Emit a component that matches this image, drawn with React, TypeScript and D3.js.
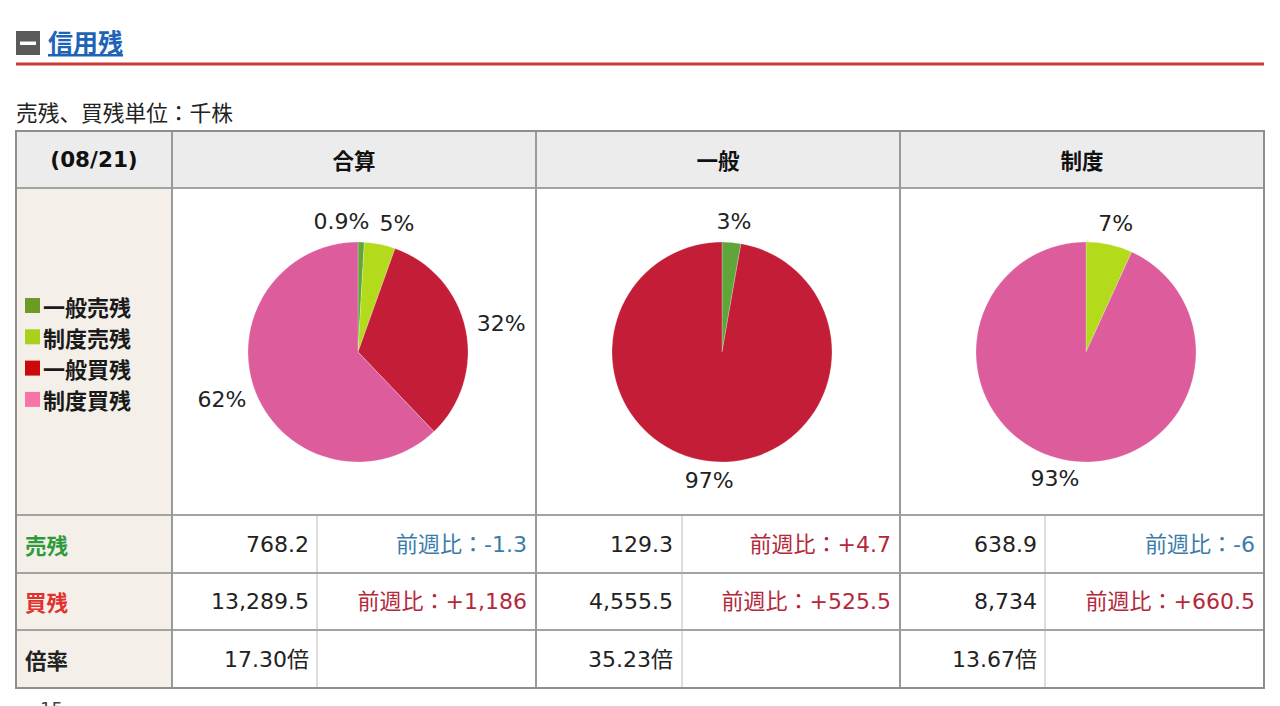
import React from 'react';
import * as d3 from 'd3';

// ---- data ----
const dateLabel = '(08/21)';
const columnTitles = ['合算', '一般', '制度'];
const legendLabels = ['一般売残', '制度売残', '一般買残', '制度買残'];
const legendColors = ['#6b9b24', '#a8d11c', '#cc0a0a', '#f774a6'];
const sliceColors = ['#5fa53a', '#b3da1b', '#c41d37', '#dd5c9c'];
// components: 一般売残, 制度売残, 一般買残, 制度買残 (千株)
const componentValues = [129.3, 638.9, 4555.5, 8734];
const pieComponents = [[0, 1, 2, 3], [0, 2], [1, 3]];
const rowLabels = ['売残', '買残', '倍率'];
const rowLabelColors = ['#2e9a3c', '#e2302c', '#222222'];
const sellValues = [768.2, 129.3, 638.9];
const buyValues = [13289.5, 4555.5, 8734];
const ratioValues = [17.3, 35.23, 13.67];
const sellChanges = [-1.3, 4.7, -6];
const buyChanges = [1186, 525.5, 660.5];

// ---- layout ----
const W = 1280;
const H = 706;
const tableL = 16;
const tableR = 1264;
const labelColR = 172;
const colW = 364;
const subW = 145;
const headerTop = 131;
const headerBot = 188;
const pieBot = 515;
const rowLines = [515, 573, 630, 688];
const pieR = 110;
const pieCY = 352;
const labelR = 122;
const labelFont = 22;

const latin = '"DejaVu Sans", "Noto Sans CJK JP", sans-serif';
const cjk = '"Noto Sans CJK JP", "DejaVu Sans", sans-serif';

let ctx: CanvasRenderingContext2D | null = null;
function measure(text: string, font: string) {
  if (!ctx) {
    const c = document.createElement('canvas');
    ctx = c.getContext('2d');
  }
  if (!ctx) return text.length * 12;
  ctx.font = font;
  return ctx.measureText(text).width;
}

const fmtNum = d3.format(',');
function fmtChange(v: number) {
  return '前週比：' + (v > 0 ? '+' : v < 0 ? '-' : '') + fmtNum(Math.abs(v));
}
function fmtPct(p: number) {
  return p < 1 ? p.toFixed(1) + '%' : Math.round(p) + '%';
}

function Pie({ cx, comps }: { cx: number; comps: number[] }) {
  const values = comps.map((i) => componentValues[i]);
  const total = d3.sum(values);
  const arcs = d3.pie<number>().sort(null).value((d) => d)(values);
  const arcGen = d3.arc<d3.PieArcDatum<number>>().innerRadius(0).outerRadius(pieR);
  const labels = arcs.map((a, k) => {
    const mid = (a.startAngle + a.endAngle) / 2;
    const text = fmtPct((values[k] / total) * 100);
    const w = measure(text, `${labelFont}px "DejaVu Sans"`);
    const h = 16;
    const ax = cx + labelR * Math.sin(mid);
    const ay = pieCY - labelR * Math.cos(mid);
    return { text, w, h, x: ax + (w / 2) * Math.sin(mid), y: ay - (h / 2) * Math.cos(mid) - 1 };
  });
  // simple collision resolution between neighbours
  for (let iter = 0; iter < 5; iter++) {
    for (let i = 0; i < labels.length - 1; i++) {
      const a = labels[i];
      const b = labels[i + 1];
      const need = (a.w + b.w) / 2 + 10;
      const dx = b.x - a.x;
      if (Math.abs(b.y - a.y) < 20 && Math.abs(dx) < need) {
        const push = (need - Math.abs(dx)) / 2;
        const s = dx >= 0 ? 1 : -1;
        a.x -= push * s * 1.3;
        b.x += push * s * 0.7;
      }
    }
  }
  return (
    <g>
      {arcs.map((a, k) => (
        <path
          key={k}
          d={arcGen(a) || ''}
          transform={`translate(${cx},${pieCY})`}
          fill={sliceColors[comps[k]]}
          stroke="#ffffff"
          strokeOpacity={0.4}
          strokeWidth={0.6}
        />
      ))}
      {labels.map((l, k) => (
        <text
          key={k}
          x={l.x}
          y={l.y}
          textAnchor="middle"
          dominantBaseline="central"
          fontFamily={latin}
          fontSize={labelFont}
          fill="#222"
        >
          {l.text}
        </text>
      ))}
    </g>
  );
}

export default function App() {
  const colL = (i: number) => labelColR + i * colW;
  const rowsData = [
    { vals: sellValues.map((v) => fmtNum(v)), changes: sellChanges },
    { vals: buyValues.map((v) => fmtNum(v)), changes: buyChanges },
    { vals: ratioValues.map((v) => v.toFixed(2) + '倍'), changes: null as number[] | null },
  ];
  return (
    <div style={{ position: 'absolute', left: 0, top: 0, width: W, height: H, background: '#fff' }}>
      <svg width={W} height={H} style={{ display: 'block' }}>
        <rect x={0} y={0} width={W} height={H} fill="#ffffff" />
        {/* title */}
        <rect x={16} y={31} width={24} height={24} fill="#5a5a5a" />
        <rect x={20} y={41.5} width={16} height={3.5} fill="#ffffff" />
        <text
          x={48}
          y={52}
          fontFamily={cjk}
          fontWeight="bold"
          fontSize={25}
          fill="#1d63b8"
          style={{ textDecoration: 'underline' }}
        >
          信用残
        </text>
        <line x1={16} x2={1264} y1={64} y2={64} stroke="#c8393b" strokeWidth={3} />
        <text x={16} y={121} fontFamily={cjk} fontSize={21.7} fill="#222">
          売残、買残単位：千株
        </text>

        {/* table backgrounds */}
        <rect x={tableL} y={headerTop} width={tableR - tableL} height={headerBot - headerTop} fill="#ececec" />
        <rect x={tableL} y={headerBot} width={labelColR - tableL} height={rowLines[3] - headerBot} fill="#f4f0e9" />

        {/* sub column lines */}
        {[0, 1, 2].map((i) => (
          <line
            key={'s' + i}
            x1={colL(i) + subW + (i === 1 ? 1 : 0)}
            x2={colL(i) + subW + (i === 1 ? 1 : 0)}
            y1={pieBot}
            y2={rowLines[3]}
            stroke="#d2d2d2"
            strokeWidth={1.5}
          />
        ))}
        {/* horizontal lines */}
        {[headerBot, ...rowLines.slice(0, 3)].map((y, i) => (
          <line key={'h' + i} x1={tableL} x2={tableR} y1={y} y2={y} stroke="#a3a3a3" strokeWidth={2} />
        ))}
        {/* main vertical lines */}
        {[labelColR, colL(1), colL(2)].map((x, i) => (
          <line key={'v' + i} x1={x} x2={x} y1={headerTop} y2={rowLines[3]} stroke="#9a9a9a" strokeWidth={2} />
        ))}
        <rect
          x={tableL}
          y={headerTop}
          width={tableR - tableL}
          height={rowLines[3] - headerTop}
          fill="none"
          stroke="#8e8e8e"
          strokeWidth={2}
        />

        {/* header */}
        <text
          x={(tableL + labelColR) / 2}
          y={(headerTop + headerBot) / 2}
          textAnchor="middle"
          dominantBaseline="central"
          fontFamily={latin}
          fontWeight="bold"
          fontSize={21.5}
          fill="#111"
        >
          {dateLabel}
        </text>
        {columnTitles.map((t, i) => (
          <text
            key={t}
            x={colL(i) + colW / 2}
            y={(headerTop + headerBot) / 2}
            textAnchor="middle"
            dominantBaseline="central"
            fontFamily={cjk}
            fontWeight="bold"
            fontSize={21.5}
            fill="#111"
          >
            {t}
          </text>
        ))}

        {/* legend */}
        {legendLabels.map((l, i) => (
          <g key={l}>
            <rect x={25} y={298 + i * 31.3} width={15} height={15} fill={legendColors[i]} />
            <text
              x={43}
              y={305.5 + i * 31.3}
              dominantBaseline="central"
              fontFamily={cjk}
              fontWeight="bold"
              fontSize={22}
              fill="#1a1a1a"
            >
              {l}
            </text>
          </g>
        ))}

        {/* pies */}
        {pieComponents.map((comps, i) => (
          <Pie key={i} cx={colL(i) + colW / 2 + 4} comps={comps} />
        ))}

        {/* rows */}
        {rowsData.map((row, r) => {
          const cy = (rowLines[r] + rowLines[r + 1]) / 2;
          return (
            <g key={'r' + r}>
              <text
                x={25}
                y={cy}
                dominantBaseline="central"
                fontFamily={cjk}
                fontWeight="bold"
                fontSize={21.5}
                fill={rowLabelColors[r]}
              >
                {rowLabels[r]}
              </text>
              {row.vals.map((v, i) => (
                <text
                  key={'v' + i}
                  x={colL(i) + subW - 8}
                  y={cy}
                  textAnchor="end"
                  dominantBaseline="central"
                  fontFamily={latin}
                  fontSize={22}
                  fill="#222"
                >
                  {v}
                </text>
              ))}
              {row.changes &&
                row.changes.map((c, i) => (
                  <text
                    key={'c' + i}
                    x={colL(i) + colW - 9}
                    y={cy}
                    textAnchor="end"
                    dominantBaseline="central"
                    fontFamily={latin}
                    fontSize={22}
                    fill={c < 0 ? '#3c7cab' : '#b3283a'}
                  >
                    {fmtChange(c)}
                  </text>
                ))}
            </g>
          );
        })}

        <text x={40} y={715} fontFamily={latin} fontSize={18} fill="#444">
          15
        </text>
      </svg>
    </div>
  );
}
